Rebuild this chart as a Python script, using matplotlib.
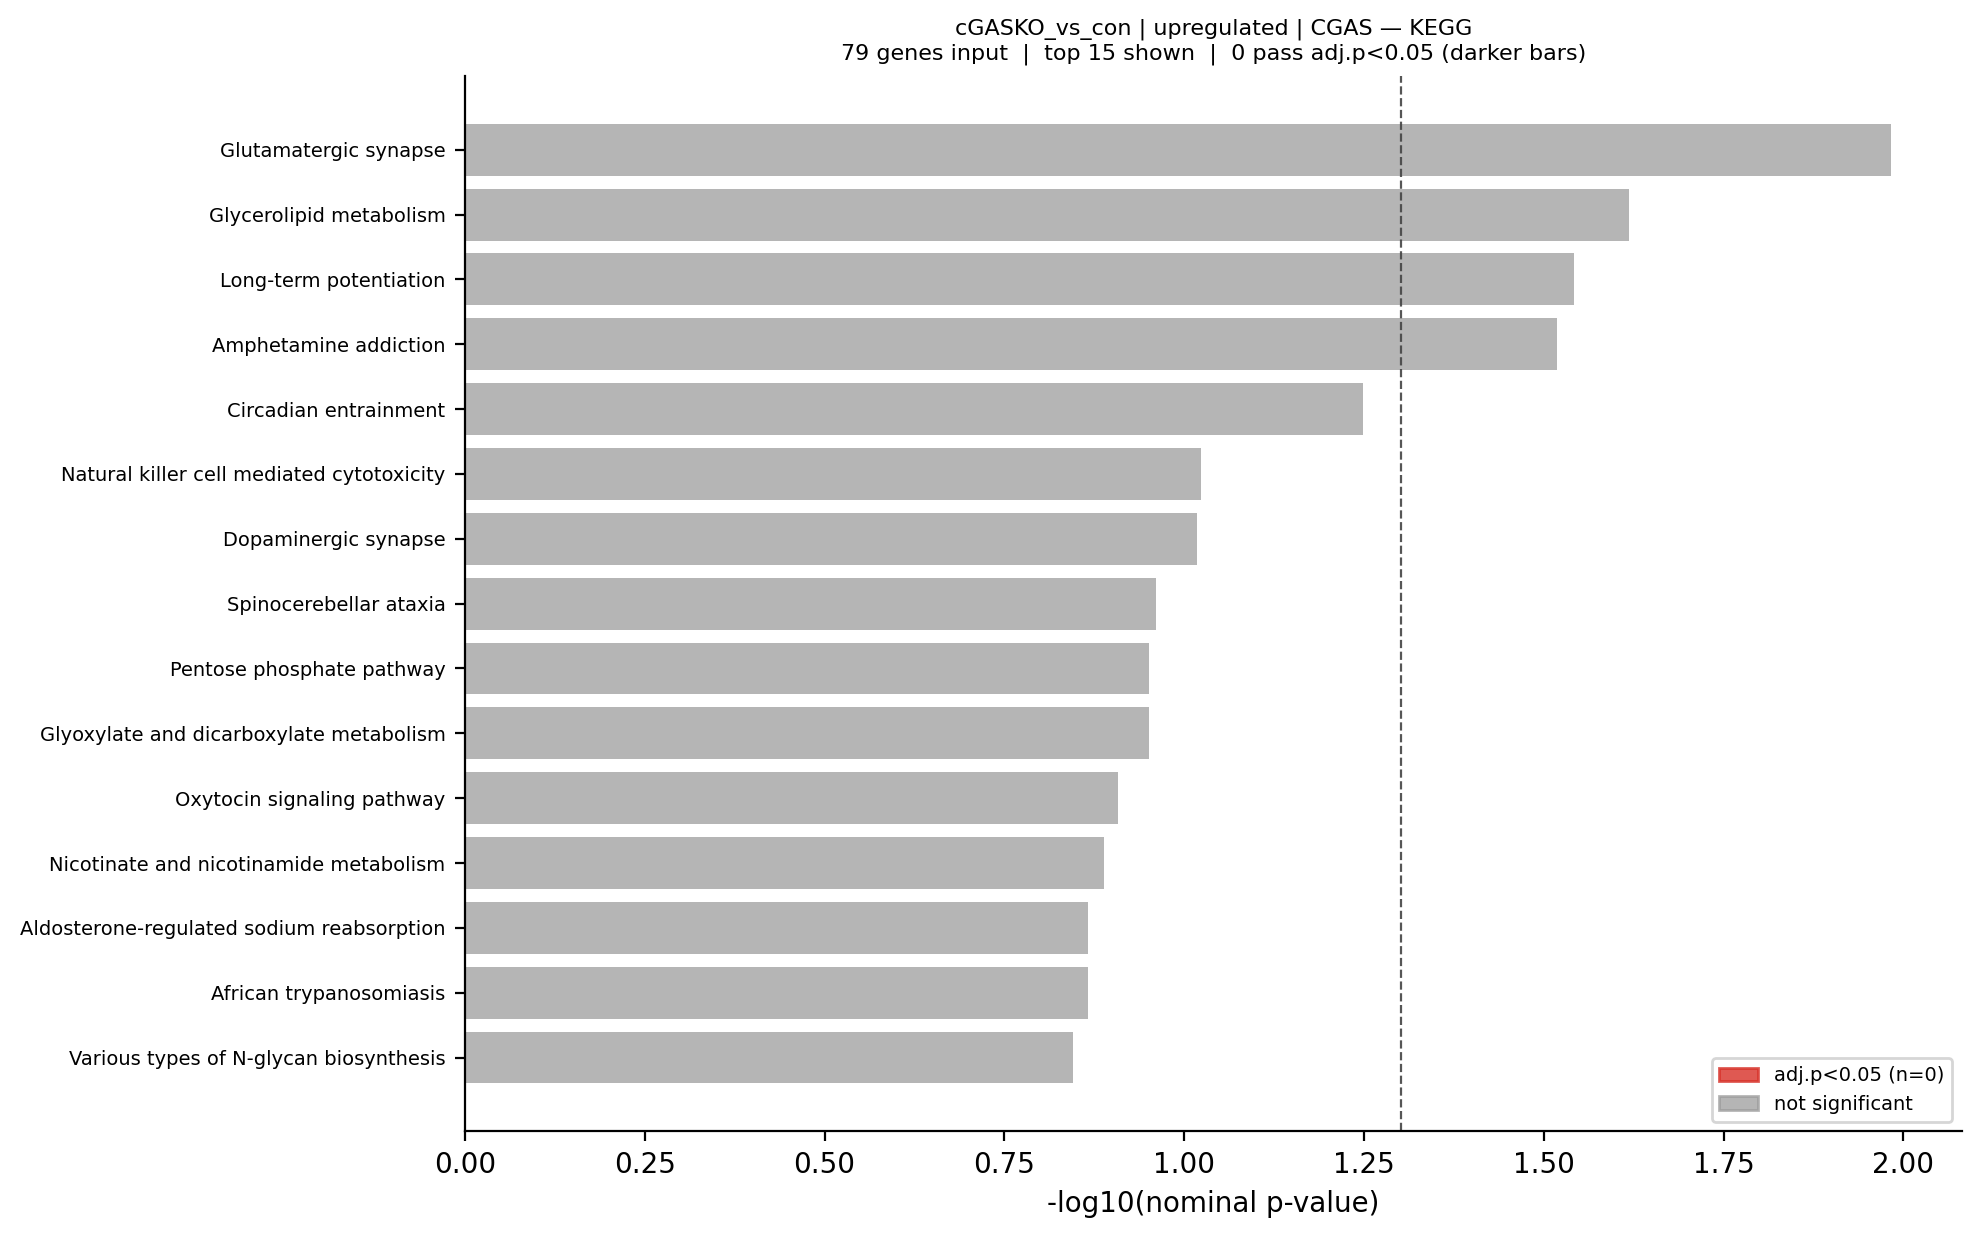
import numpy as np
import matplotlib
matplotlib.use("Agg")
import matplotlib.pyplot as plt
from matplotlib.patches import Patch

# ---- data (top to bottom) ----
pathways = [
    "Glutamatergic synapse",
    "Glycerolipid metabolism",
    "Long-term potentiation",
    "Amphetamine addiction",
    "Circadian entrainment",
    "Natural killer cell mediated cytotoxicity",
    "Dopaminergic synapse",
    "Spinocerebellar ataxia",
    "Pentose phosphate pathway",
    "Glyoxylate and dicarboxylate metabolism",
    "Oxytocin signaling pathway",
    "Nicotinate and nicotinamide metabolism",
    "Aldosterone-regulated sodium reabsorption",
    "African trypanosomiasis",
    "Various types of N-glycan biosynthesis",
]
neglog10_p = [1.982, 1.619, 1.542, 1.518, 1.249, 1.023, 1.018, 0.961,
              0.951, 0.951, 0.908, 0.888, 0.866, 0.866, 0.845]
significant = [False] * 15
threshold = -np.log10(0.05)
n_input = 79
n_shown = 15

sig_color = "#d73027"
ns_color = "#999999"

fig = plt.figure(figsize=(9.9, 6.195), dpi=200)
ax = fig.add_axes([0.2348, 0.0868, 0.9908 - 0.2348, 0.9388 - 0.0868])

y = np.arange(len(pathways))
colors = [sig_color if s else ns_color for s in significant]
ax.barh(y, neglog10_p, height=0.8, color=colors, alpha=0.72)
ax.set_yticks(y)
ax.set_yticklabels(pathways, fontsize=7)
ax.invert_yaxis()
ax.axvline(threshold, color="#444444", linestyle="--", linewidth=0.8, alpha=0.9)

ax.set_xlabel("-log10(nominal p-value)", fontsize=10)
ax.tick_params(axis="x", labelsize=10)
ax.set_xticks([0, 0.25, 0.5, 0.75, 1.0, 1.25, 1.5, 1.75, 2.0])
ax.xaxis.set_major_formatter(matplotlib.ticker.FormatStrFormatter("%.2f"))
ax.spines["top"].set_visible(False)
ax.spines["right"].set_visible(False)

n_sig = sum(significant)
ax.set_title(
    "cGASKO_vs_con | upregulated | CGAS \u2014 KEGG\n"
    f"{n_input} genes input  |  top {n_shown} shown  |  {n_sig} pass adj.p<0.05 (darker bars)",
    fontsize=8,
)

handles = [
    Patch(color=sig_color, alpha=0.8, label=f"adj.p<0.05 (n={n_sig})"),
    Patch(color=ns_color, alpha=0.72, label="not significant"),
]
ax.legend(handles=handles, loc="lower right", fontsize=7)

fig.savefig("out.png", dpi=200)
